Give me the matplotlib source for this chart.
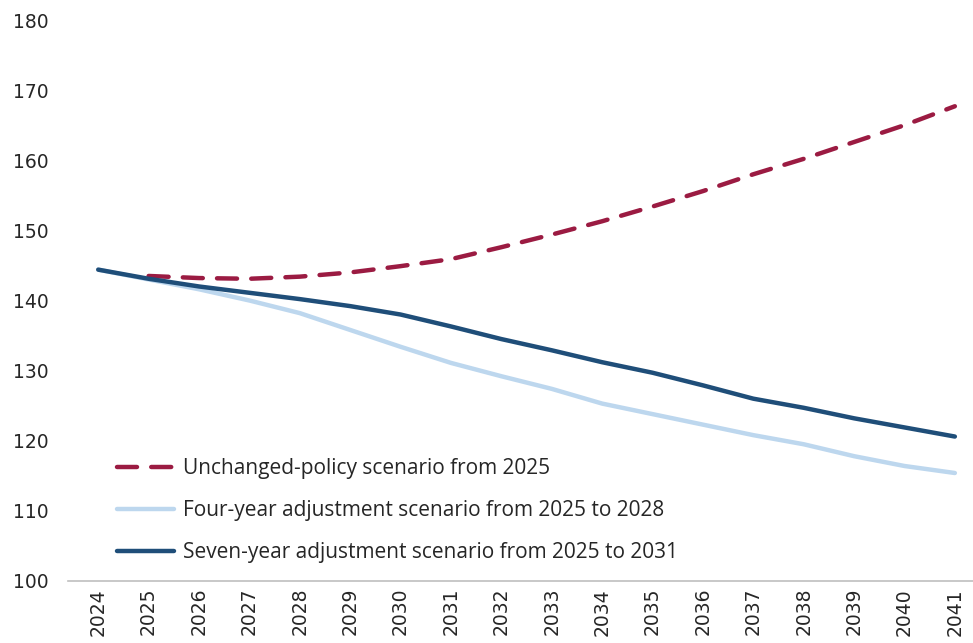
import matplotlib

matplotlib.use("Agg")

import matplotlib.pyplot as plt

# Projected values, 2024-2041
years = [str(y) for y in range(2024, 2042)]

unchanged = [None, 143.5, 143.2, 143.1, 143.4, 144.0, 144.9, 145.9, 147.6,
             149.4, 151.3, 153.4, 155.6, 158.0, 160.2, 162.6, 165.0, 167.7]
four_year = [144.4, 143.0, 141.6, 140.0, 138.2, 135.8, 133.4, 131.1, 129.2,
             127.4, 125.3, 123.8, 122.3, 120.8, 119.5, 117.8, 116.4, 115.4]
seven_year = [144.4, 143.1, 142.0, 141.1, 140.2, 139.2, 138.0, 136.3, 134.5,
              132.9, 131.2, 129.7, 127.9, 126.0, 124.7, 123.2, 121.9, 120.6]

labels = [
    "Unchanged-policy scenario from 2025",
    "Four-year adjustment scenario from 2025 to 2028",
    "Seven-year adjustment scenario from 2025 to 2031",
]

fig = plt.figure(figsize=(9.73, 6.43), dpi=100)
ax = fig.add_axes([68 / 973, 62 / 643, 905 / 973, 561 / 643])

x = list(range(len(years)))
xu = [i for i, v in zip(x, unchanged) if v is not None]
yu = [v for v in unchanged if v is not None]

ax.plot(xu, yu, color="#9B1B42", linewidth=3.2, linestyle=(0, (4.5, 3.2)),
        dash_capstyle="round", label=labels[0], zorder=2)
ax.plot(x, four_year, color="#BDD7EE", linewidth=3.2,
        solid_capstyle="round", label=labels[1], zorder=3)
ax.plot(x, seven_year, color="#1F4E79", linewidth=3.2,
        solid_capstyle="round", label=labels[2], zorder=4)

ax.set_xlim(-0.6, 17.36)
ax.set_ylim(100, 180)
ax.set_yticks(range(100, 181, 10))
ax.set_xticks(x)
ax.set_xticklabels(years, rotation=90)

for side in ("top", "right", "left"):
    ax.spines[side].set_visible(False)
ax.spines["bottom"].set_color("#BFBFBF")
ax.spines["bottom"].set_linewidth(1.2)
ax.tick_params(axis="both", length=0, labelsize=13.5, colors="#262626")
ax.tick_params(axis="y", pad=14)
ax.tick_params(axis="x", pad=5)

leg = ax.legend(loc="lower left", bbox_to_anchor=(0.033, -0.002), frameon=False,
                handlelength=2.75, handletextpad=0.45, labelspacing=1.02,
                prop={"family": "Open Sans", "size": 15})
for t in leg.get_texts():
    t.set_color("#262626")

fig.savefig("out.png", dpi=100)
